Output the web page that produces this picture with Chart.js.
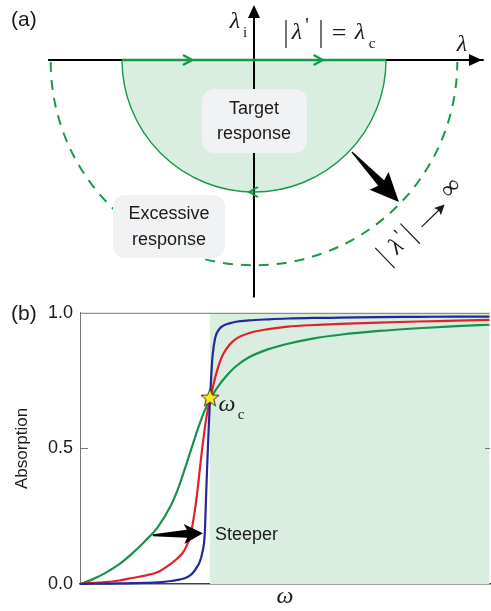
<!DOCTYPE html>
<html>
<head>
<meta charset="utf-8">
<script src="https://cdn.jsdelivr.net/npm/chart.js@4.4.1/dist/chart.umd.min.js"></script>
<style>
  body { margin: 0; background: #fff; }
  #wrap { position: relative; width: 491px; height: 611px; }
  canvas { position: absolute; left: 0; }
</style>
</head>
<body>
<div id="wrap">
  <canvas id="contour" width="491" height="300" style="top:0"></canvas>
  <canvas id="absorption" width="491" height="316" style="top:295px"></canvas>
</div>
<script>
// panel (a): contour radii in units of lambda_c (target, excessive)
const contourRadii = [1, 1.54];

// panel (b): omega in units of omega_c
const omega = [0, 0.1, 0.2, 0.3, 0.4, 0.5, 0.6, 0.7, 0.75, 0.8, 0.85, 0.88, 0.9, 0.92, 0.94, 0.96, 0.97, 0.98, 0.99, 1.0,
  1.01, 1.02, 1.04, 1.07, 1.1, 1.15, 1.2, 1.3, 1.45, 1.6, 1.8, 2.0, 2.3, 2.6, 2.9, 3.15];
const broadAbs = [0, 0.018, 0.042, 0.072, 0.112, 0.158, 0.211, 0.29, 0.346, 0.415, 0.489, 0.533, 0.563, 0.59, 0.616, 0.64, 0.651, 0.662, 0.672, 0.681,
  0.689, 0.697, 0.712, 0.733, 0.752, 0.78, 0.803, 0.836, 0.866, 0.886, 0.906, 0.919, 0.933, 0.943, 0.951, 0.956];
const mediumAbs = [0, 0.004, 0.007, 0.013, 0.022, 0.031, 0.044, 0.075, 0.095, 0.122, 0.18, 0.26, 0.33, 0.415, 0.5, 0.575, 0.607, 0.634, 0.657, 0.679,
  0.7, 0.721, 0.762, 0.81, 0.846, 0.882, 0.904, 0.925, 0.94, 0.949, 0.955, 0.959, 0.964, 0.968, 0.971, 0.974];
const steepAbs = [0, 0.001, 0.0015, 0.002, 0.003, 0.004, 0.006, 0.011, 0.015, 0.02, 0.033, 0.048, 0.063, 0.081, 0.114, 0.1875, 0.327, 0.456, 0.574, 0.679,
  0.772, 0.842, 0.908, 0.939, 0.952, 0.961, 0.967, 0.972, 0.976, 0.979, 0.981, 0.982, 0.984, 0.985, 0.986, 0.986];
const yTicks = [0, 0.5, 1];
const criticalPoint = [1, 0.687];

const SANS = '"Liberation Sans", Arial, sans-serif';
const SERIF = '"Liberation Serif", "Times New Roman", serif';
const GREEN = '#179a48';
const SHADE = '#d9ede1';

function pts(xs, ys) { return xs.map((x, i) => ({ x: x, y: ys[i] })); }

function taperArrow(ctx, x1, y1, x2, y2, headLen, headHalf, neckHalf, tailHalf) {
  const len = Math.hypot(x2 - x1, y2 - y1);
  const dx = (x2 - x1) / len, dy = (y2 - y1) / len;
  const px = -dy, py = dx;
  const bx = x2 - dx * headLen, by = y2 - dy * headLen;
  ctx.beginPath();
  ctx.moveTo(x1 + px * tailHalf, y1 + py * tailHalf);
  ctx.lineTo(bx + px * neckHalf, by + py * neckHalf);
  ctx.lineTo(bx - dx * 3 + px * headHalf, by - dy * 3 + py * headHalf);
  ctx.lineTo(x2, y2);
  ctx.lineTo(bx - dx * 3 - px * headHalf, by - dy * 3 - py * headHalf);
  ctx.lineTo(bx - px * neckHalf, by - py * neckHalf);
  ctx.lineTo(x1 - px * tailHalf, y1 - py * tailHalf);
  ctx.closePath();
  ctx.fill();
}

function chevron(ctx, x, y, dir, len, half) {
  ctx.beginPath();
  ctx.moveTo(x - dir * len, y - half);
  ctx.lineTo(x, y);
  ctx.lineTo(x - dir * len, y + half);
  ctx.stroke();
}

function roundBox(ctx, x, y, w, h, r) {
  ctx.beginPath();
  ctx.roundRect(x, y, w, h, r);
  ctx.fillStyle = '#f1f2f4';
  ctx.fill();
}

function text(ctx, s, x, y, font, align) {
  ctx.font = font;
  ctx.textAlign = align || 'center';
  ctx.textBaseline = 'middle';
  ctx.fillStyle = '#1a1a1a';
  ctx.fillText(s, x, y);
}

// ---------- panel (a) ----------
const contourPlugin = {
  id: 'contour',
  afterDraw(chart) {
    const ctx = chart.ctx;
    const xs = chart.scales.x, ys = chart.scales.y;
    const X = v => xs.getPixelForValue(v);
    const Y = v => ys.getPixelForValue(v);
    const cx = X(0), cy = Y(0);
    const rIn = X(contourRadii[0]) - cx;
    const rOut = X(contourRadii[1]) - cx;
    ctx.save();

    // target region
    ctx.beginPath();
    ctx.moveTo(cx + rIn, cy);
    ctx.arc(cx, cy, rIn, 0, Math.PI);
    ctx.closePath();
    ctx.fillStyle = SHADE;
    ctx.fill();

    // excessive contour (dashed)
    ctx.strokeStyle = GREEN;
    ctx.lineWidth = 2;
    ctx.setLineDash([10, 8]);
    ctx.beginPath();
    ctx.arc(cx, cy + 2, rOut, Math.PI, 0, true);
    ctx.stroke();
    ctx.setLineDash([]);

    // axes
    ctx.strokeStyle = '#000';
    ctx.fillStyle = '#000';
    ctx.lineWidth = 2;
    ctx.beginPath();
    ctx.moveTo(X(-1.56), cy);
    ctx.lineTo(X(1.74), cy);
    ctx.moveTo(cx, Y(-1.8));
    ctx.lineTo(cx, Y(0.33));
    ctx.stroke();
    ctx.beginPath();
    ctx.moveTo(X(1.727), cy);
    ctx.lineTo(X(1.727) - 13, cy - 6);
    ctx.lineTo(X(1.727) - 13, cy + 6);
    ctx.closePath();
    ctx.fill();
    ctx.beginPath();
    ctx.moveTo(cx, Y(0.417));
    ctx.lineTo(cx - 6, Y(0.417) + 13);
    ctx.lineTo(cx + 6, Y(0.417) + 13);
    ctx.closePath();
    ctx.fill();

    // target contour
    ctx.strokeStyle = GREEN;
    ctx.lineWidth = 1.4;
    ctx.beginPath();
    ctx.arc(cx, cy, rIn, 0, Math.PI);
    ctx.stroke();
    ctx.lineWidth = 2.5;
    ctx.beginPath();
    ctx.moveTo(X(-contourRadii[0]), cy);
    ctx.lineTo(X(contourRadii[0]), cy);
    ctx.stroke();
    chevron(ctx, X(-0.47), cy, 1, 9, 5);
    chevron(ctx, X(0.52), cy, 1, 9, 5);
    ctx.lineWidth = 2;
    chevron(ctx, cx - 5, cy + rIn, -1, 9, 5);

    // boxes
    roundBox(ctx, 202, 89, 105, 64, 12);
    roundBox(ctx, 113, 195, 112, 63, 12);
    text(ctx, 'Target', 254, 109, '18px ' + SANS);
    text(ctx, 'response', 254, 134, '18px ' + SANS);
    text(ctx, 'Excessive', 169, 214, '18px ' + SANS);
    text(ctx, 'response', 169, 240, '18px ' + SANS);

    // black arrow
    ctx.fillStyle = '#000';
    taperArrow(ctx, X(0.742), Y(-0.697), X(1.098), Y(-1.076), 26, 13, 4, 0.6);

    // labels
    text(ctx, '(a)', 11, 20, '21px ' + SANS, 'left');
    text(ctx, 'λ', 235, 22, 'italic 24px ' + SERIF);
    text(ctx, 'i', 245, 33, '15px ' + SERIF);
    text(ctx, 'λ', 462, 45, 'italic 24px ' + SERIF);

    ctx.strokeStyle = '#1a1a1a';
    ctx.lineWidth = 1.2;
    ctx.beginPath();
    ctx.moveTo(286, 20); ctx.lineTo(286, 48);
    ctx.moveTo(321, 20); ctx.lineTo(321, 48);
    ctx.stroke();
    text(ctx, 'λ', 297, 33, 'italic 24px ' + SERIF);
    text(ctx, "'", 307, 27, '20px ' + SERIF);
    text(ctx, '=', 339, 34, '26px ' + SERIF);
    text(ctx, 'λ', 360, 33, 'italic 24px ' + SERIF);
    text(ctx, 'c', 372, 44, '15px ' + SERIF);

    // rotated |lambda'| -> infinity
    ctx.translate(385, 258);
    ctx.rotate(-44 * Math.PI / 180);
    ctx.beginPath();
    ctx.moveTo(0, -14); ctx.lineTo(0, 14);
    ctx.moveTo(35, -14); ctx.lineTo(35, 14);
    ctx.moveTo(48, 3); ctx.lineTo(74, 3);
    ctx.stroke();
    ctx.fillStyle = '#1a1a1a';
    ctx.beginPath();
    ctx.moveTo(80, 3); ctx.lineTo(70, -2); ctx.lineTo(72, 3); ctx.lineTo(70, 8);
    ctx.closePath();
    ctx.fill();
    text(ctx, 'λ', 16, 0, 'italic 24px ' + SERIF);
    text(ctx, "'", 26, -6, '20px ' + SERIF);
    text(ctx, '∞', 96, -4, '26px ' + SERIF);
    ctx.restore();
  }
};

new Chart(document.getElementById('contour'), {
  type: 'scatter',
  data: { datasets: [] },
  options: {
    responsive: false,
    animation: false,
    layout: { padding: 0, autoPadding: false },
    plugins: { legend: { display: false }, tooltip: { enabled: false } },
    scales: {
      x: { type: 'linear', display: false, min: -254 / 132, max: 237 / 132 },
      y: { type: 'linear', display: false, min: -240 / 132, max: 60 / 132 }
    }
  },
  plugins: [contourPlugin]
});

// ---------- panel (b) ----------
const starImg = document.createElement('canvas');
starImg.width = 22; starImg.height = 22;
(function () {
  const c = starImg.getContext('2d');
  c.beginPath();
  for (let i = 0; i < 10; i++) {
    const r = i % 2 === 0 ? 9.5 : 4;
    const a = -Math.PI / 2 + i * Math.PI / 5;
    const px = 11 + r * Math.cos(a), py = 11.5 + r * Math.sin(a);
    if (i === 0) c.moveTo(px, py); else c.lineTo(px, py);
  }
  c.closePath();
  c.fillStyle = '#f6ea1a';
  c.fill();
  c.strokeStyle = '#3a3a20';
  c.lineWidth = 1;
  c.stroke();
})();

const framePlugin = {
  id: 'frame',
  afterDatasetsDraw(chart) {
    const ctx = chart.ctx;
    const a = chart.chartArea;
    const xs = chart.scales.x, ys = chart.scales.y;
    ctx.save();
    ctx.strokeStyle = '#777';
    ctx.lineWidth = 1;
    ctx.beginPath();
    ctx.moveTo(a.left, a.top + 0.5);
    ctx.lineTo(a.right, a.top + 0.5);
    const yMid = Math.round(ys.getPixelForValue(yTicks[1])) + 0.5;
    ctx.moveTo(a.left, yMid); ctx.lineTo(a.left + 8, yMid);
    ctx.moveTo(a.right, yMid); ctx.lineTo(a.right - 5, yMid);
    ctx.stroke();

    ctx.fillStyle = '#000';
    taperArrow(ctx, xs.getPixelForValue(0.56), ys.getPixelForValue(0.18),
      xs.getPixelForValue(0.946), ys.getPixelForValue(0.1875), 16, 10, 4, 1);

    text(ctx, '(b)', 11, 19, '21px ' + SANS, 'left');
    text(ctx, 'Steeper', 215, 240, '18px ' + SANS, 'left');
    text(ctx, 'ω', 227, 110, 'italic 24px ' + SERIF);
    text(ctx, 'c', 241, 120, '15px ' + SERIF);
    ctx.restore();
  }
};

new Chart(document.getElementById('absorption'), {
  type: 'line',
  data: {
    datasets: [
      {
        data: [{ x: criticalPoint[0], y: 1 }, { x: omega[omega.length - 1], y: 1 }],
        fill: 'origin', backgroundColor: SHADE, borderWidth: 0, pointRadius: 0, order: 10
      },
      { data: pts(omega, broadAbs), borderColor: '#17924a', borderWidth: 2.2, pointRadius: 0, cubicInterpolationMode: 'monotone', order: 3 },
      { data: pts(omega, mediumAbs), borderColor: '#e3212b', borderWidth: 2.2, pointRadius: 0, cubicInterpolationMode: 'monotone', order: 2 },
      { data: pts(omega, steepAbs), borderColor: '#25289a', borderWidth: 2.2, pointRadius: 0, cubicInterpolationMode: 'monotone', order: 1 },
      {
        type: 'scatter', data: [{ x: criticalPoint[0], y: criticalPoint[1] }],
        pointStyle: starImg, pointRadius: 10, order: -1
      }
    ]
  },
  options: {
    responsive: false,
    animation: false,
    clip: false,
    layout: { padding: { top: 17, right: 1, bottom: 0, left: 0 }, autoPadding: false },
    plugins: { legend: { display: false }, tooltip: { enabled: false } },
    scales: {
      x: {
        type: 'linear', min: 0, max: 410 / 130,
        ticks: { display: false },
        grid: { display: false, drawTicks: false },
        border: { display: true, color: '#444', width: 1.5 },
        title: { display: true, text: 'ω', color: '#1a1a1a', font: { family: SERIF, size: 24, style: 'italic' }, padding: { top: 0, bottom: 0 } },
        afterFit: s => { s.height = 27; }
      },
      y: {
        type: 'linear', min: 0, max: 1,
        afterBuildTicks: s => { s.ticks = yTicks.map(v => ({ value: v })); },
        ticks: { padding: 7, color: '#1a1a1a', font: { family: SANS, size: 18 }, callback: v => v.toFixed(1) },
        grid: { display: false, drawTicks: false },
        border: { display: true, color: '#777', width: 1 },
        title: { display: true, text: 'Absorption', color: '#1a1a1a', font: { family: SANS, size: 17 }, padding: { top: 12, bottom: 0 } },
        afterFit: s => { s.width = 80; }
      }
    }
  },
  plugins: [framePlugin]
});
</script>
</body>
</html>
